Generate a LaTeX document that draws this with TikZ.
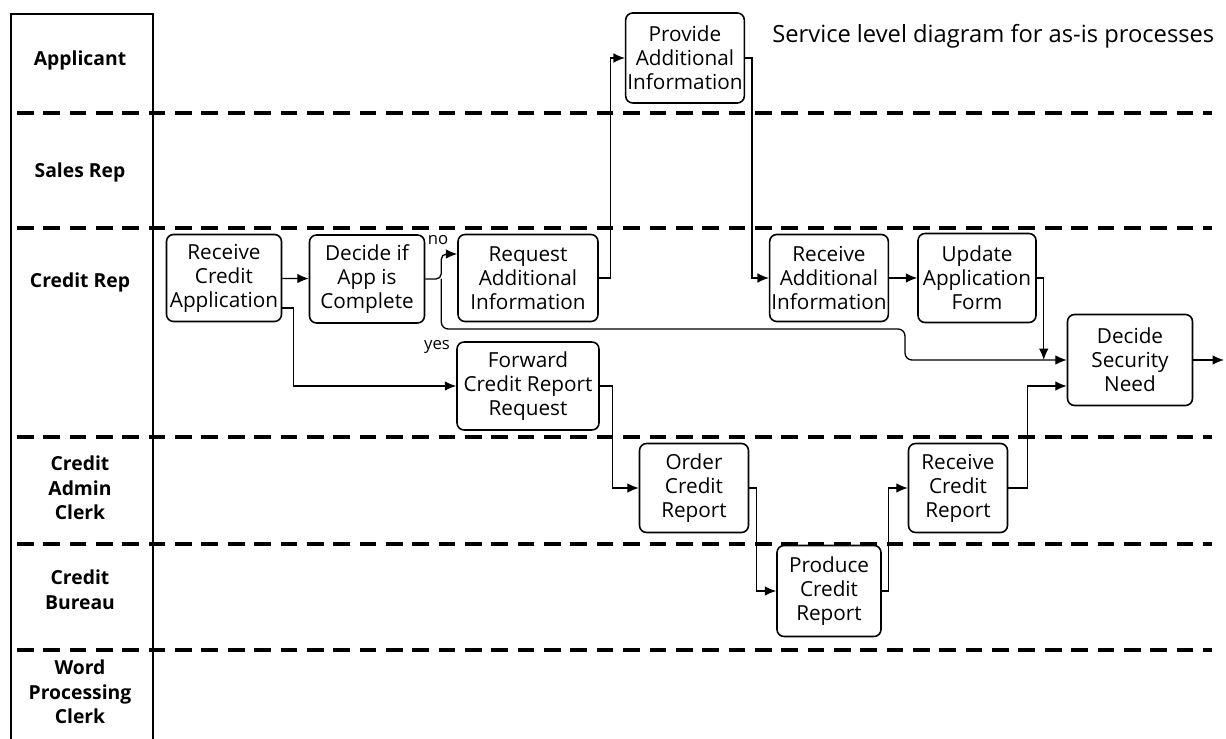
\documentclass[tikz,border=0pt]{standalone}
\usepackage{fontspec}
\setmainfont{Open Sans}
\usetikzlibrary{calc,arrows.meta}

\begin{document}
\begin{tikzpicture}[x=0.02cm, y=-0.02cm,
    box/.style={draw, line width=0.9pt, rounded corners=4pt, align=center, inner sep=1pt,
        font=\fontsize{11.8}{13.6}\selectfont},
    lane/.style={align=center, font=\fontsize{11}{14}\selectfont\bfseries},
    link/.style={line width=0.75pt, -{Latex[length=6.5pt,width=5.5pt]}},
    lanesep/.style={line width=2pt, dash pattern=on 9.5pt off 5.5pt}]

    \useasboundingbox (0,0) rectangle (1226,739);

    % swimlanes
    \draw[line width=0.6pt] (11,739) -- (11,14) -- (153,14) -- (153,739);
    \foreach \y in {113,228,437,544,650}
        \draw[lanesep] (17,\y) -- (1212,\y);
    \foreach \n/\y/\t in {app/60/Applicant, sales/172/Sales Rep, crep/282/Credit Rep,
                          admin/488/{Credit\\Admin\\Clerk}, bureau/590/{Credit\\Bureau},
                          word/692/{Word\\Processing\\Clerk}}
        \node[lane] (lane\n) at (80,\y) {\t};

    \node[anchor=west, inner sep=0pt, font=\fontsize{13.5}{16}\selectfont] (title) at (772,36)
        {Service level diagram for as-is processes};

    % activities
    \node[box, minimum width=2.3cm, minimum height=1.74cm] (rca) at (224,278) {Receive\\Credit\\Application};
    \node[box, minimum width=2.3cm, minimum height=1.76cm] (dia) at (367,279) {Decide if\\App is\\Complete};
    \node[box, minimum width=2.8cm, minimum height=1.74cm] (rqa) at (528,278) {Request\\Additional\\Information};
    \node[box, minimum width=2.32cm, minimum height=1.8cm] (pai) at (685,58) {Provide\\Additional\\Information};
    \node[box, minimum width=2.34cm, minimum height=1.74cm] (raa) at (829,278) {Receive\\Additional\\Information};
    \node[box, minimum width=2.36cm, minimum height=1.78cm] (uaf) at (977,278) {Update\\Application\\Form};
    \node[box, minimum width=2.5cm, minimum height=1.82cm] (dsn) at (1130,360) {Decide\\Security\\Need};
    \node[box, minimum width=2.84cm, minimum height=1.76cm] (fcr) at (528,386) {Forward\\Credit Report\\Request};
    \node[box, minimum width=2.18cm, minimum height=1.78cm] (ocr) at (694,488) {Order\\Credit\\Report};
    \node[box, minimum width=2.08cm, minimum height=1.82cm] (pcr) at (829,591) {Produce\\Credit\\Report};
    \node[box, minimum width=1.98cm, minimum height=1.78cm] (rcr) at (958,488) {Receive\\Credit\\Report};

    \node[font=\fontsize{9.5}{11}\selectfont] (no) at (438,240) {no};
    \node[font=\fontsize{9.5}{11}\selectfont] (yes) at (437,347) {yes};
    \coordinate (out) at (1224,360);

    % flows
    \draw[link] (rca) -- (dia);
    \draw[link, rounded corners=3pt] (dia.east) -- ++(16,0) coordinate (fork) |- ($(rqa.west)+(0,-24)$);
    \draw[link, rounded corners=4pt] (fork) |- (905,329) |- (dsn.west);
    \draw[link] ($(rca.east)+(0,30)$) -- ++(11,0) |- (fcr);
    \draw[link] (rqa.east) -- ++(12,0) |- (pai);
    \draw[link] (pai.east) -- ++(7,0) |- (raa);
    \draw[link] (raa) -- (uaf);
    \draw[link] (uaf.east) -| ($(dsn.west)+(-23,0)$);
    \draw[link] (fcr.east) -- ++(13,0) |- (ocr);
    \draw[link] (ocr.east) -- ++(7,0) |- (pcr);
    \draw[link] (pcr.east) -- ++(7,0) |- (rcr);
    \draw[link] (rcr.east) -- ++(19,0) |- ($(dsn.west)+(0,26)$);
    \draw[link] (dsn.east) -- (out);
\end{tikzpicture}
\end{document}
